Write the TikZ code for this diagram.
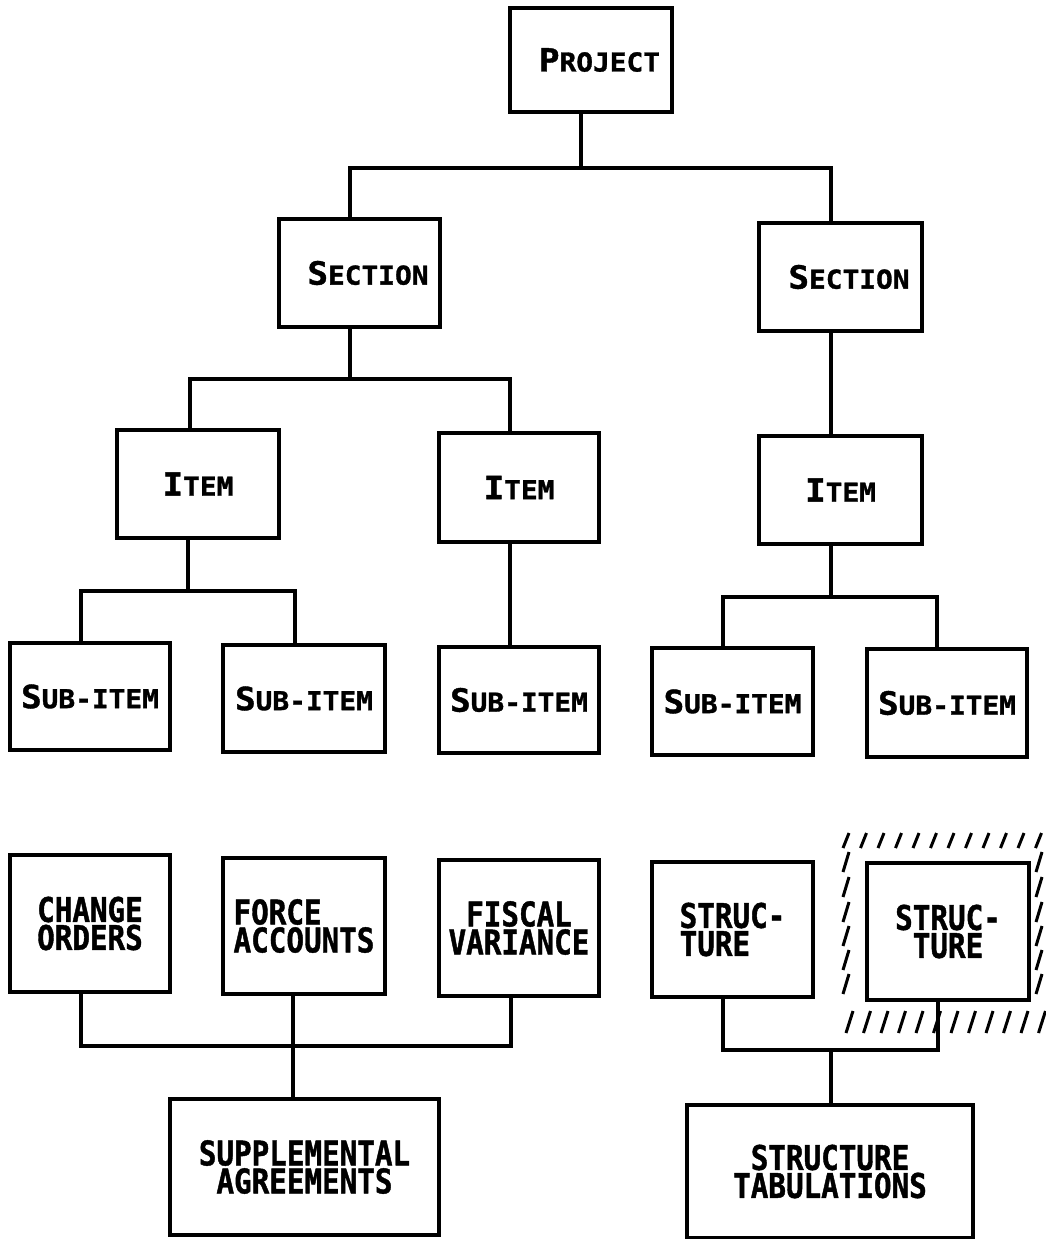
\documentclass[tikz,border=0pt]{standalone}
\usepackage{fontspec}
\newfontfamily\capsfont{DejaVu Sans Mono Bold}[FakeStretch=1.07, FakeBold=1.2]
\newfontfamily\condfont{DejaVu Sans Mono Bold}[FakeStretch=0.86, FakeBold=1.2]
% large initial letter followed by smaller capitals
\newcommand\bigsmall[2]{{\fontsize{32}{32}\selectfont #1}{\fontsize{26}{26}\selectfont #2}}
% label set a little right of the box centre
\newcommand\pushright[1]{\hspace*{17pt}#1}
\begin{document}
\begin{tikzpicture}[x=1pt,y=-1pt,
  box/.style={draw, line width=3.2pt, inner sep=0pt, rectangle},
  upper/.style={box, font=\capsfont},
  lower/.style={box, font=\condfont\fontsize{34}{28}\selectfont},
  link/.style={line width=3.2pt},
  hatch/.style={line width=3pt}]
\useasboundingbox (0,0) rectangle (1046,1239);
\fill[white] (0,0) rectangle (1046,1239);

% ---- hierarchy ----
\node[upper, minimum width=162pt, minimum height=104pt] (proj) at (591,60) {\pushright{\bigsmall{P}{ROJECT}}};
\node[upper, minimum width=161pt, minimum height=108pt] (secL) at (359.5,273) {\pushright{\bigsmall{S}{ECTION}}};
\node[upper, minimum width=163pt, minimum height=108pt] (secR) at (840.5,277) {\pushright{\bigsmall{S}{ECTION}}};
\node[upper, minimum width=162pt, minimum height=108pt] (itm1) at (198,484) {\bigsmall{I}{TEM}};
\node[upper, minimum width=160pt, minimum height=109pt] (itm2) at (519,487.5) {\bigsmall{I}{TEM}};
\node[upper, minimum width=163pt, minimum height=108pt] (itm3) at (840.5,490) {\bigsmall{I}{TEM}};
\node[upper, minimum width=160pt, minimum height=107pt] (sub1) at (90,696.5) {\bigsmall{S}{UB-ITEM}};
\node[upper, minimum width=162pt, minimum height=107pt] (sub2) at (304,698.5) {\bigsmall{S}{UB-ITEM}};
\node[upper, minimum width=160pt, minimum height=106pt] (sub3) at (519,700) {\bigsmall{S}{UB-ITEM}};
\node[upper, minimum width=161pt, minimum height=107pt] (sub4) at (732.5,701.5) {\bigsmall{S}{UB-ITEM}};
\node[upper, minimum width=160pt, minimum height=108pt] (sub5) at (947,703) {\bigsmall{S}{UB-ITEM}};

% ---- records ----
\node[lower, align=center, minimum width=160pt, minimum height=137pt] (chg) at (90,923.5) {CHANGE\\ORDERS};
\node[lower, align=left, minimum width=162pt, minimum height=136pt] (frc) at (304,926) {FORCE\\ACCOUNTS};
\node[lower, align=center, minimum width=160pt, minimum height=136pt] (fis) at (519,928) {FISCAL\\VARIANCE};
\node[lower, align=left, minimum width=161pt, minimum height=135pt] (st1) at (732.5,929.5) {STRUC-\\TURE};
\node[lower, align=center, minimum width=162pt, minimum height=137pt] (st2) at (948,931.5) {STRUC-\\TURE};
\node[lower, align=center, minimum width=269pt, minimum height=136pt] (sup) at (304.5,1167) {SUPPLEMENTAL\\AGREEMENTS};
\node[lower, align=center, minimum width=286pt, minimum height=133pt] (tab) at (830,1171.5) {STRUCTURE\\TABULATIONS};

% ---- connectors ----
\coordinate (j0) at (581,168);
\coordinate (j0L) at (350,168);
\coordinate (j0R) at (831,168);
\draw[link] (proj.south -| j0) -- (j0);
\draw[link] (secL.north -| j0L) -- (j0L) -- (j0R) -- (secR.north -| j0R);

\coordinate (j1) at (350,379);
\coordinate (j1L) at (190,379);
\coordinate (j1R) at (510,379);
\draw[link] (secL.south -| j1) -- (j1);
\draw[link] (itm1.north -| j1L) -- (j1L) -- (j1R) -- (itm2.north -| j1R);
\draw[link] (secR.south -| j0R) -- (itm3.north -| j0R);

\coordinate (j2) at (188,591);
\coordinate (j2L) at (81,591);
\coordinate (j2R) at (295,591);
\draw[link] (itm1.south -| j2) -- (j2);
\draw[link] (sub1.north -| j2L) -- (j2L) -- (j2R) -- (sub2.north -| j2R);
\draw[link] (itm2.south -| j1R) -- (sub3.north -| j1R);

\coordinate (j3) at (831,597);
\coordinate (j3L) at (723,597);
\coordinate (j3R) at (937,597);
\draw[link] (itm3.south -| j3) -- (j3);
\draw[link] (sub4.north -| j3L) -- (j3L) -- (j3R) -- (sub5.north -| j3R);

\coordinate (j4) at (293,1046);
\coordinate (j4L) at (81,1046);
\coordinate (j4R) at (511,1046);
\draw[link] (chg.south -| j4L) -- (j4L) -- (j4R) -- (fis.south -| j4R);
\draw[link] (frc.south -| j4) -- (sup.north -| j4);

\coordinate (j5) at (831,1050);
\coordinate (j5L) at (723,1050);
\coordinate (j5R) at (938,1050);
\draw[link] (st1.south -| j5L) -- (j5L) -- (j5R) -- (st2.south -| j5R);
\draw[link] (j5) -- (tab.north -| j5);

% ---- hatched surround of the second structure ----
\foreach \i in {0,...,11} \draw[hatch] ({843+17.5*\i},848) -- ++(6,-15);
\foreach \i in {0,...,11} \draw[hatch] ({846+17.5*\i},1033) -- ++(7,-22);
\foreach \y in {852,877,902,926,950,974} {
  \draw[hatch] (843,{\y+20}) -- ++(6,-20);
  \draw[hatch] (1036,{\y+20}) -- ++(6,-20);
}
\end{tikzpicture}
\end{document}
